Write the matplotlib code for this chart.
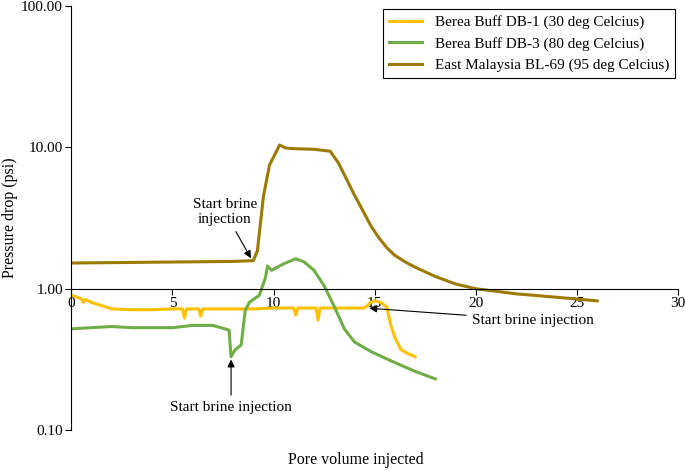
import matplotlib.pyplot as plt
from matplotlib.ticker import FixedLocator, FuncFormatter, NullLocator

plt.rcParams["font.family"] = "Liberation Serif"

# Berea Buff DB-1 (30 deg C)
db1_x = [0, 0.3, 0.5, 0.6, 0.7, 1, 1.5, 2, 3, 4, 5, 5.5, 5.6, 5.7, 6.3, 6.4, 6.5, 8, 9, 10, 11, 11.1, 11.2, 11.3, 12.1, 12.2, 12.3, 13, 14, 14.5, 14.8, 15, 15.3, 15.6, 15.8, 16, 16.3, 16.6, 17]
db1_y = [0.90, 0.87, 0.85, 0.80, 0.84, 0.80, 0.76, 0.72, 0.71, 0.71, 0.72, 0.72, 0.62, 0.72, 0.72, 0.64, 0.72, 0.72, 0.72, 0.73, 0.73, 0.65, 0.73, 0.73, 0.73, 0.60, 0.73, 0.73, 0.73, 0.73, 0.80, 0.82, 0.80, 0.74, 0.55, 0.45, 0.37, 0.35, 0.33]
# Berea Buff DB-3 (80 deg C)
db3_x = [0, 1, 2, 3, 4, 5, 6, 7, 7.8, 7.9, 8.1, 8.4, 8.6, 8.8, 9.3, 9.6, 9.7, 9.9, 10.5, 11.1, 11.5, 12, 12.5, 13, 13.5, 14, 14.8, 16, 17, 18]
db3_y = [0.52, 0.53, 0.54, 0.53, 0.53, 0.53, 0.55, 0.55, 0.51, 0.33, 0.37, 0.40, 0.70, 0.80, 0.90, 1.20, 1.45, 1.35, 1.50, 1.63, 1.55, 1.35, 1.05, 0.75, 0.52, 0.42, 0.36, 0.30, 0.26, 0.23]
# East Malaysia BL-69 (95 deg C)
bl69_x = [0, 2, 4, 6, 8, 9, 9.2, 9.5, 9.8, 10.3, 10.6, 11, 12, 12.8, 13.2, 13.6, 14, 14.4, 14.8, 15.2, 15.6, 16, 16.5, 17, 18, 19, 20, 22, 24, 26]
bl69_y = [1.52, 1.53, 1.54, 1.55, 1.56, 1.58, 1.85, 4.5, 7.5, 10.4, 9.9, 9.8, 9.7, 9.4, 7.8, 6.0, 4.6, 3.6, 2.8, 2.3, 1.95, 1.72, 1.55, 1.42, 1.22, 1.08, 1.0, 0.92, 0.87, 0.82]

fig, ax = plt.subplots(figsize=(6.85, 4.71), dpi=100)
fig.subplots_adjust(left=0.104, right=0.99, top=0.987, bottom=0.087)

ax.plot(db1_x, db1_y, color="#FFC000", lw=2.2, label="Berea Buff DB-1 (30 deg Celcius)")
ax.plot(db3_x, db3_y, color="#70AD47", lw=2.2, label="Berea Buff DB-3 (80 deg Celcius)")
ax.plot(bl69_x, bl69_y, color="#9C7A00", lw=2.2, label="East Malaysia BL-69 (95 deg Celcius)")

ax.set_yscale("log")
ax.set_ylim(0.1, 100)
ax.set_xlim(0, 30)
ax.yaxis.set_major_locator(FixedLocator([0.1, 1, 10, 100]))
ax.yaxis.set_minor_locator(NullLocator())
ax.yaxis.set_major_formatter(FuncFormatter(lambda v, p: f"{v:.2f}"))
ax.set_xticks([0, 5, 10, 15, 20, 25, 30])
ax.spines["bottom"].set_position(("data", 1))
ax.spines["top"].set_visible(False)
ax.spines["right"].set_visible(False)
ax.tick_params(axis="x", direction="out", length=4, labelsize=11, pad=2)
ax.tick_params(axis="y", direction="out", length=4, labelsize=11, pad=2)

ax.set_ylabel("Pressure drop (psi)", fontsize=11.5, labelpad=2)
fig.text(0.52, 0.015, "Pore volume injected", ha="center", fontsize=11.5)

arrow = dict(arrowstyle="-|>", color="black", lw=0.8)
ax.annotate("Start brine\ninjection", xy=(8.95, 1.58), xytext=(7.6, 2.9), ha="center", fontsize=11, arrowprops=arrow)
ax.annotate("Start brine injection", xy=(7.9, 0.33), xytext=(7.9, 0.145), ha="center", va="center", fontsize=11, arrowprops=arrow)
ax.annotate("Start brine injection", xy=(14.6, 0.73), xytext=(19.8, 0.6), ha="left", va="center", fontsize=11, arrowprops=arrow)

leg = ax.legend(loc="upper right", fontsize=11, fancybox=False, edgecolor="black", framealpha=1, handlelength=2.2, borderaxespad=0.2)
leg.get_frame().set_linewidth(0.8)

fig.savefig("out.png", dpi=100)
